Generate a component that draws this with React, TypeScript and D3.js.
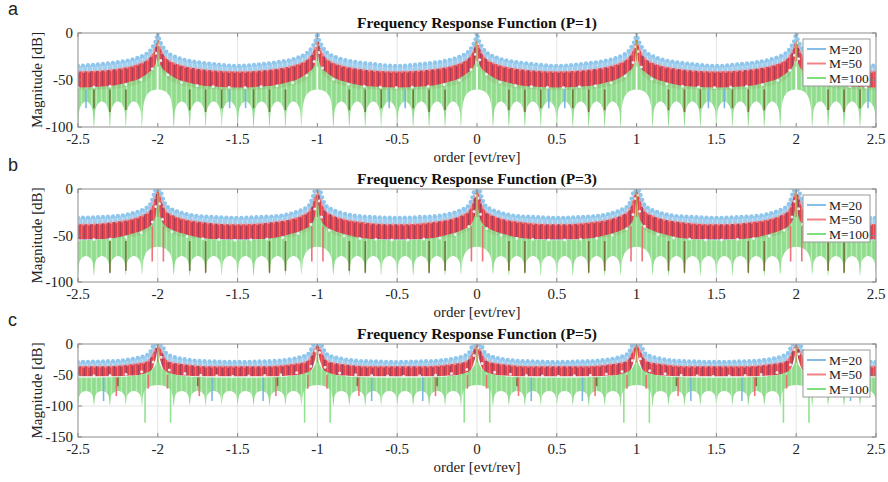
import React from "react";
import * as d3 from "d3";

// peak positions (orders) and axis ticks
const peakOrders = [-2, -1, 0, 1, 2];
const xTicks = [-2.5, -2, -1.5, -1, -0.5, 0, 0.5, 1, 1.5, 2, 2.5];
const seriesNames = ["M=20", "M=50", "M=100"];

// offsets from each peak where envelopes were read (mirrored on both sides)
const envOffsets = [0, 0.004, 0.01, 0.02, 0.03, 0.05, 0.08, 0.12, 0.18, 0.25, 0.35, 0.5];
const archOffsets = [
	0, 0.03, 0.06, 0.08, 0.093, 0.1, 0.107, 0.12, 0.15, 0.18, 0.193, 0.2, 0.207, 0.22, 0.25,
	0.28, 0.293, 0.3, 0.307, 0.32, 0.35, 0.38, 0.393, 0.4, 0.407, 0.42, 0.45, 0.48, 0.493, 0.5,
];

// P=1 envelopes (dB)
const p1BlueTop = [0, -3, -7, -11, -14, -19, -23, -26, -29, -31, -33, -35];
const p1BlueBot = [0, -10, -22, -30, -36, -42, -47, -51, -54, -56, -57, -58];
const p1RedTop = [0, -5, -11, -17, -21, -26, -30, -33, -36, -38, -40, -41];
const p1RedBot = [0, -20, -30, -38, -42, -47, -51, -54, -57, -59, -60, -61];
const p1GreenTop = [0, -26, -32, -35, -38, -41, -45, -49, -52, -55, -57, -58];
const p1GreenArch = [
	-60, -61, -64, -70, -82, -100, -84, -77, -73, -77, -84, -100, -84, -77, -73,
	-77, -84, -100, -84, -77, -73, -77, -84, -100, -84, -77, -73, -77, -84, -100,
];
const p1Spikes = [
	{ s: "dark", o: 0.2, from: -60, to: -82 },
	{ s: "dark", o: 0.3, from: -60, to: -84 },
	{ s: "dark", o: 0.4, from: -60, to: -80 },
	{ s: "blue", o: 0.45, from: -60, to: -80 },
];

// P=3 envelopes (dB)
const p3BlueTop = [0, 0, 0, -3, -9, -17, -21, -24, -27, -29, -30, -31];
const p3BlueBot = [0, -5, -15, -25, -33, -40, -45, -48, -51, -53, -54, -55];
const p3RedTop = [0, -2, -5, -10, -16, -23, -27, -30, -33, -35, -37, -38];
const p3RedBot = [0, -15, -28, -35, -40, -44, -47, -50, -52, -53, -54, -54];
const p3GreenTop = [-8, -15, -25, -32, -36, -40, -43, -46, -49, -52, -54, -55];
const p3GreenArch = [
	-62, -63, -66, -71, -80, -92, -80, -75, -72, -75, -80, -93, -80, -75, -72,
	-75, -80, -92, -80, -75, -72, -75, -80, -93, -80, -75, -72, -75, -80, -92,
];
const p3Spikes = [
	{ s: "red", o: 0.035, from: -40, to: -78 },
	{ s: "dark", o: 0.2, from: -56, to: -88 },
	{ s: "dark", o: 0.3, from: -56, to: -90 },
];

// P=5 envelopes (dB)
const p5BlueTop = [0, 0, 0, 0, -3, -14, -19, -22, -25, -27, -28, -29];
const p5BlueBot = [0, -5, -10, -20, -30, -38, -43, -46, -48, -50, -51, -52];
const p5RedTop = [0, -2, -5, -9, -14, -24, -29, -31, -33, -35, -36, -36];
const p5RedBot = [0, -10, -20, -30, -38, -45, -48, -50, -51, -52, -52, -52];
const p5GreenTop = [-5, -20, -30, -36, -40, -44, -47, -50, -52, -53, -54, -54];
const p5GreenArch = [
	-66, -67, -70, -74, -84, -100, -85, -79, -76, -79, -85, -98, -85, -79, -76,
	-79, -85, -99, -85, -79, -76, -79, -85, -98, -85, -79, -76, -79, -85, -97,
];
const p5Spikes = [
	{ s: "red", o: 0.06, from: -50, to: -72 },
	{ s: "green", o: 0.08, from: -60, to: -127 },
	{ s: "red", o: 0.26, from: -54, to: -84 },
	{ s: "blue", o: 0.34, from: -54, to: -92 },
	{ s: "dark", o: 0.25, from: -54, to: -68 },
];

const spikeColor: Record<string, string> = {
	red: "#f0646c",
	dark: "#6f6a2c",
	blue: "#6fb0e6",
	green: "#86e086",
};

const panels = [
	{
		id: "a", title: "Frequency Response Function (P=1)", top: 33, bottom: 127,
		yTicks: [0, -50, -100], yMin: -100,
		blueTop: p1BlueTop, blueBot: p1BlueBot, redTop: p1RedTop, redBot: p1RedBot,
		greenTop: p1GreenTop, greenArch: p1GreenArch, spikes: p1Spikes, gap: -36,
	},
	{
		id: "b", title: "Frequency Response Function (P=3)", top: 189, bottom: 282,
		yTicks: [0, -50, -100], yMin: -100,
		blueTop: p3BlueTop, blueBot: p3BlueBot, redTop: p3RedTop, redBot: p3RedBot,
		greenTop: p3GreenTop, greenArch: p3GreenArch, spikes: p3Spikes, gap: null,
	},
	{
		id: "c", title: "Frequency Response Function (P=5)", top: 344, bottom: 437,
		yTicks: [0, -50, -100, -150], yMin: -150,
		blueTop: p5BlueTop, blueBot: p5BlueBot, redTop: p5RedTop, redBot: p5RedBot,
		greenTop: p5GreenTop, greenArch: p5GreenArch, spikes: p5Spikes, gap: null,
	},
];

const x = d3.scaleLinear().domain([-2.5, 2.5]).range([78, 876]);

// spread a half-period profile around every peak
function expand(offsets: number[], values: number[]) {
	const half = offsets.map((o, i) => ({ o, v: values[i] }));
	const period = [
		...half.slice(1).reverse().map((d) => ({ o: -d.o, v: d.v })),
		...half,
	];
	const pts: { x: number; v: number }[] = [];
	peakOrders.forEach((p, k) => {
		period.forEach((d, j) => {
			if (k > 0 && j === 0) return;
			pts.push({ x: p + d.o, v: d.v });
		});
	});
	return pts;
}

const serif = "'Liberation Serif', 'Times New Roman', serif";

function Panel({ cfg }: { cfg: any }) {
	const y = d3.scaleLinear().domain([cfg.yMin, 0]).range([cfg.bottom, cfg.top]);
	const curve = d3.curveMonotoneX;

	const blueTop = expand(envOffsets, cfg.blueTop);
	const blueBot = expand(envOffsets, cfg.blueBot);
	const redTop = expand(envOffsets, cfg.redTop);
	const redBot = expand(envOffsets, cfg.redBot);
	const greenTop = expand(envOffsets, cfg.greenTop);
	const greenArch = expand(archOffsets, cfg.greenArch);

	const band = (hi: any[], lo: any[]) =>
		d3
			.area<any>()
			.x((d) => x(d.x))
			.y1((d) => y(d.v))
			.y0((d, i) => y(lo[i].v))
			.curve(curve)(hi) || "";

	const line = d3
		.line<any>()
		.x((d) => x(d.x))
		.y((d) => y(d.v))
		.curve(curve);

	const greenArea =
		d3
			.area<any>()
			.x((d) => x(d.x))
			.y1((d) => y(d.v))
			.y0(cfg.bottom)
			.curve(curve)(greenTop) || "";
	const archClip =
		d3
			.area<any>()
			.x((d) => x(d.x))
			.y0((d) => y(d.v))
			.y1(cfg.top - 2)
			.curve(curve)(greenArch) || "";

	const clipId = `plot-${cfg.id}`;
	const archId = `arch-${cfg.id}`;
	const spikes: any[] = [];
	peakOrders.forEach((p) =>
		cfg.spikes.forEach((s: any) => {
			[-1, 1].forEach((sg) => {
				const xo = p + sg * s.o;
				if (xo >= -2.5 && xo <= 2.5) spikes.push({ ...s, x: xo });
			});
		}),
	);

	const legendTop = cfg.top + 6;
	const legendColors = ["#86bde8", "#f08484", "#7fe07f"];

	return (
		<g>
			<defs>
				<clipPath id={clipId}>
					<rect x={78} y={cfg.top} width={798} height={cfg.bottom - cfg.top} />
				</clipPath>
				<clipPath id={archId}>
					<path d={archClip} />
				</clipPath>
			</defs>
			<text x={8} y={cfg.top - 18} fontFamily="'Liberation Sans', Arial, sans-serif" fontSize={18} fill="#222">
				{cfg.id}
			</text>
			<text x={477} y={cfg.top - 5} textAnchor="middle" fontFamily={serif} fontWeight="bold" fontSize={15.5} fill="#111">
				{cfg.title}
			</text>
			{/* grid */}
			{xTicks.map((t) => (
				<line key={"gx" + t} x1={x(t)} x2={x(t)} y1={cfg.top} y2={cfg.bottom} stroke="#e4e4e4" strokeWidth={1} />
			))}
			{cfg.yTicks.map((t: number) => (
				<line key={"gy" + t} x1={78} x2={876} y1={y(t)} y2={y(t)} stroke="#e4e4e4" strokeWidth={1} />
			))}
			<g clipPath={`url(#${clipId})`}>
				<path d={band(blueTop, blueBot)} fill="url(#bluePat)" />
				<path d={band(redTop, redBot)} fill="url(#redPat)" opacity={0.93} />
				<path
					d={line(redTop) || ""}
					fill="none"
					stroke="#f3a0a2"
					strokeWidth={3}
					strokeDasharray="0 5.5"
					strokeLinecap="round"
					opacity={0.7}
				/>
				<g clipPath={`url(#${archId})`}>
					<path d={greenArea} fill="url(#greenPat)" opacity={0.92} />
				</g>
				<path
					d={line(blueBot) || ""}
					fill="none"
					stroke="#eef7fc"
					strokeWidth={3}
					strokeDasharray="0 16"
					strokeLinecap="round"
					opacity={0.9}
				/>
				{spikes.map((s, i) => (
					<line
						key={"sp" + i}
						x1={x(s.x)}
						x2={x(s.x)}
						y1={y(s.from)}
						y2={y(s.to)}
						stroke={spikeColor[s.s]}
						strokeWidth={1.6}
						opacity={0.9}
					/>
				))}
				{cfg.gap !== null &&
					peakOrders.map((p) => (
						<line key={"gap" + p} x1={x(p)} x2={x(p)} y1={y(cfg.gap)} y2={cfg.bottom} stroke="#ffffff" strokeWidth={1.6} />
					))}
				{peakOrders.map((p) => (
					<line key={"pk" + p} x1={x(p)} x2={x(p)} y1={y(0)} y2={y(-30)} stroke="#b08a3a" strokeWidth={1.4} opacity={0.8} />
				))}
				<path
					d={line(blueTop) || ""}
					fill="none"
					stroke="#8fc6ec"
					strokeWidth={4.2}
					strokeDasharray="0 5"
					strokeLinecap="round"
				/>
			</g>
			{/* axes box and ticks */}
			<rect x={78} y={cfg.top} width={798} height={cfg.bottom - cfg.top} fill="none" stroke="#a8a8a8" strokeWidth={1.2} />
			{xTicks.map((t) => (
				<g key={"tx" + t}>
					<line x1={x(t)} x2={x(t)} y1={cfg.bottom} y2={cfg.bottom - 4} stroke="#888" />
					<line x1={x(t)} x2={x(t)} y1={cfg.top} y2={cfg.top + 4} stroke="#888" />
					<text x={x(t)} y={cfg.bottom + 17} textAnchor="middle" fontFamily={serif} fontSize={15} fill="#222">
						{t}
					</text>
				</g>
			))}
			{cfg.yTicks.map((t: number) => (
				<g key={"ty" + t}>
					<line x1={78} x2={82} y1={y(t)} y2={y(t)} stroke="#888" />
					<line x1={876} x2={872} y1={y(t)} y2={y(t)} stroke="#888" />
					<text x={73} y={y(t) + 5} textAnchor="end" fontFamily={serif} fontSize={15} fill="#222">
						{t}
					</text>
				</g>
			))}
			<text x={477} y={cfg.bottom + 35} textAnchor="middle" fontFamily={serif} fontSize={15} fill="#222">
				order [evt/rev]
			</text>
			<text
				transform={`translate(42,${(cfg.top + cfg.bottom) / 2}) rotate(-90)`}
				textAnchor="middle"
				fontFamily={serif}
				fontSize={15}
				fill="#222"
			>
				Magnitude [dB]
			</text>
			{/* legend */}
			<rect x={803} y={legendTop} width={67} height={47} fill="#fff" stroke="#9a9a9a" strokeWidth={1} />
			{seriesNames.map((n, i) => (
				<g key={n}>
					<line x1={807} x2={826} y1={legendTop + 10 + i * 14.5} y2={legendTop + 10 + i * 14.5} stroke={legendColors[i]} strokeWidth={2} />
					<text x={829} y={legendTop + 14.5 + i * 14.5} fontFamily={serif} fontSize={13.5} fill="#222">
						{n}
					</text>
				</g>
			))}
		</g>
	);
}

export default function App() {
	return (
		<div style={{ position: "absolute", left: 0, top: 0, width: 888, height: 482, background: "#fff" }}>
			<svg width={888} height={482}>
				<defs>
					<pattern id="bluePat" width={5} height={10} patternUnits="userSpaceOnUse">
						<rect width={5} height={10} fill="#a4d0ef" />
						<rect x={2} width={1} height={10} fill="#c4e0f5" />
					</pattern>
					<pattern id="redPat" width={6} height={10} patternUnits="userSpaceOnUse">
						<rect width={6} height={10} fill="#e3383f" />
						<rect x={0} width={0.8} height={10} fill="#9a3050" />
						<rect x={3} width={1.2} height={10} fill="#eb6468" />
					</pattern>
					<pattern id="greenPat" width={5} height={10} patternUnits="userSpaceOnUse">
						<rect width={5} height={10} fill="#90dd8d" />
						<rect x={1} width={1} height={10} fill="#b0e9ac" />
						<rect x={3.5} width={0.8} height={10} fill="#7ad477" />
					</pattern>
				</defs>
				<rect width={888} height={482} fill="#fff" />
				{panels.map((p) => (
					<Panel key={p.id} cfg={p} />
				))}
			</svg>
		</div>
	);
}
